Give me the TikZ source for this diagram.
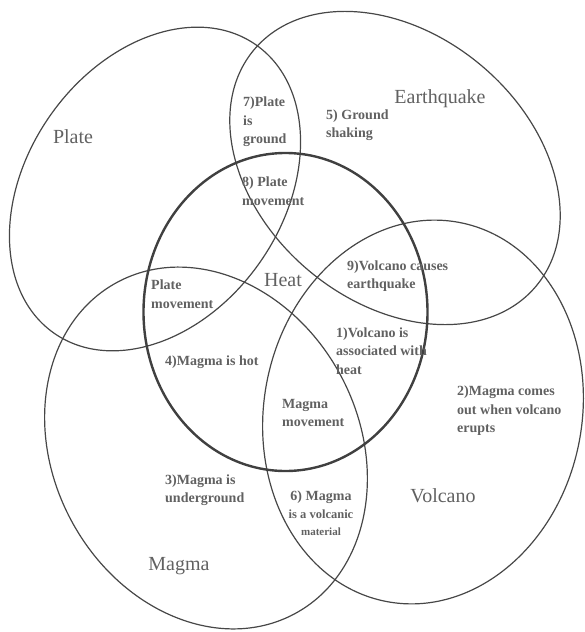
\documentclass[tikz,border=0pt]{standalone}
\usepackage{fontspec}
\usepackage{xcolor}
\usetikzlibrary{positioning}
\newfontfamily\notefont{Liberation Serif}

\tikzset{
  ring/.style={draw=black!72, line width=1.2pt},
  heatring/.style={draw=black!75, line width=2.4pt},
  setname/.style={text=black!62, font=\notefont\fontsize{20}{22}\selectfont},
  note/.style={text=black!62, font=\notefont\bfseries\fontsize{14}{18.5}\selectfont,
    align=left, anchor=west, inner sep=0pt},
}

\begin{document}
\begin{tikzpicture}[x=1pt, y=-1pt]
    \useasboundingbox (0,0) rectangle (584,632);
    % the five sets
    \draw[ring, rotate around={55:(155,189)}] (155,189) ellipse [x radius=176, y radius=128];
    \draw[ring, rotate around={-40:(395,168)}] (395,168) ellipse [x radius=184, y radius=134];
    \draw[ring, rotate around={118:(206,448)}] (206,448) ellipse [x radius=188, y radius=153];
    \draw[ring, rotate around={79:(423,412)}] (423,412) ellipse [x radius=193, y radius=159];
    \draw[heatring] (285.5,312) ellipse [x radius=142, y radius=159];

    \node[setname] (plate) at (73,137) {Plate};
    \node[setname] (quake) at (440,99) {Earthquake};
    \node[setname] (heat) at (283,280) {Heat};
    \node[setname] (magma) at (179,566) {Magma};
    \node[setname] (volcano) at (443,496) {Volcano};

    % statements
    \node[note] (n7) at (243,122) {7)Plate\\is\\ground};
    \node[note] (n5) at (326,125) {5) Ground\\shaking};
    \node[note] (n8) at (242,191) {8) Plate\\movement};
    \node[note] (pm) at (151,294) {Plate\\movement};
    \node[note] (n9) at (347,276) {9)Volcano causes\\earthquake};
    \node[note] (n1) at (336,351) {1)Volcano is\\associated with\\heat};
    \node[note] (n4) at (165,362) {4)Magma is hot};
    \node[note] (mm) at (282,413) {Magma\\movement};
    \node[note] (n2) at (457,411) {2)Magma comes\\out when volcano\\erupts};
    \node[note] (n3) at (165,490) {3)Magma is\\underground};
    \node[note, anchor=center, align=center] (n6) at (321,513)
      {6) Magma\\{\fontsize{12.5}{18}\selectfont is a volcanic}\\[-2pt]{\fontsize{11}{15}\selectfont material}};
  \end{tikzpicture}
\end{document}
